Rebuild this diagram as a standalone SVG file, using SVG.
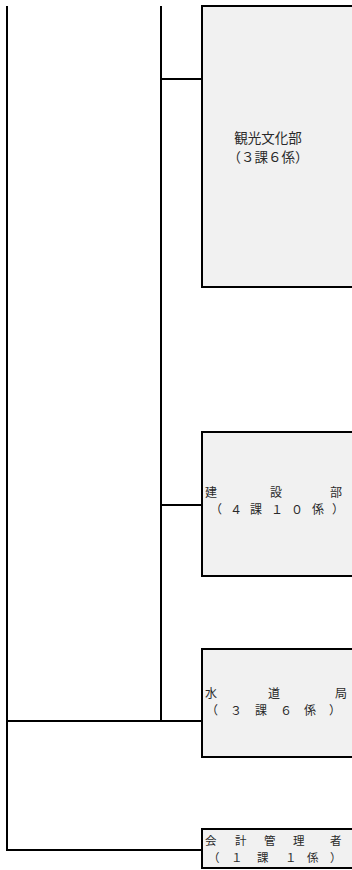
<svg xmlns="http://www.w3.org/2000/svg" width="352" height="870" viewBox="0 0 352 870">
<style>
.box{fill:#f1f1f1;stroke:#000;stroke-width:2}
.ln{stroke:#000;stroke-width:2;fill:none}
.t{font-family:"Noto Sans CJK JP","Noto Sans CJK SC",sans-serif;fill:#2a2a2a}
.f13{font-size:13.5px}
.f12{font-size:12px}
.f11{font-size:11.5px}
</style>
<rect width="352" height="870" fill="#fff"/>
<g id="connectors">
<line class="ln" x1="7" y1="6" x2="7" y2="851"/>
<line class="ln" x1="161" y1="6" x2="161" y2="722"/>
<line class="ln" x1="161" y1="79" x2="202" y2="79"/>
<line class="ln" x1="161" y1="505" x2="202" y2="505"/>
<line class="ln" x1="6" y1="721" x2="202" y2="721"/>
<line class="ln" x1="6" y1="850" x2="202" y2="850"/>
</g>
<g id="kanko">
<rect class="box" x="202" y="6" width="160" height="281"/>
<text class="t f13" x="268" y="143" text-anchor="middle">観光文化部</text>
<text class="t f13" x="268" y="162" text-anchor="middle">（３課６係）</text>
</g>
<g id="kensetsu">
<rect class="box" x="202" y="432" width="160" height="144"/>
<text class="t f12" x="205 270 330" y="497">建設部</text>
<text class="t f12" x="210 230 250 271 291 312 332" y="514">（４課１０係）</text>
</g>
<g id="suido">
<rect class="box" x="202" y="649" width="160" height="108"/>
<text class="t f12" x="205 268 335" y="698">水道局</text>
<text class="t f12" x="206 230 255 280 304 329" y="715">（３課６係）</text>
</g>
<g id="kaikei">
<rect class="box" x="202" y="829" width="160" height="39"/>
<text class="t f11" x="205 235 264 293 330" y="845">会計管理者</text>
<text class="t f11" x="208 231 257 285 307 330" y="862">（１課１係）</text>
</g>
</svg>
